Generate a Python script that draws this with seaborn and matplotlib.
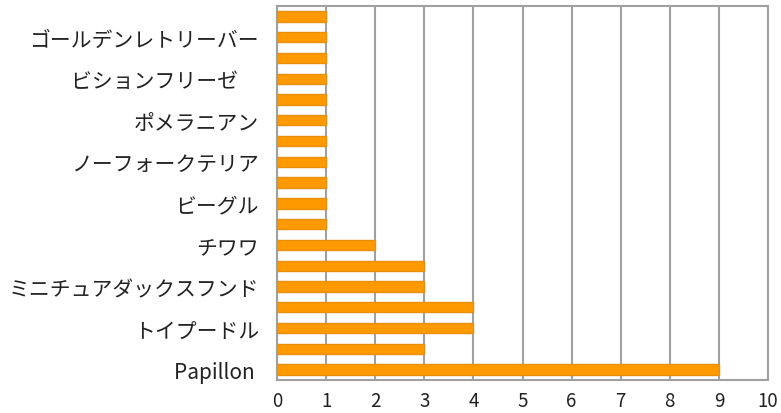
import matplotlib
matplotlib.use("Agg")
import matplotlib.pyplot as plt
import seaborn as sns
import pandas as pd

# Categories top-to-bottom (unlabelled ones are hidden categories in the original)
categories = [f"cat{i:02d}" for i in range(18)]
tick_labels = ["", "ゴールデンレトリーバー", "", "ビションフリーゼ\u3000", "", "ポメラニアン",
               "", "ノーフォークテリア", "", "ビーグル", "", "チワワ",
               "", "ミニチュアダックスフンド", "", "トイプードル", "", "Papillon "]
values = [1, 1, 1, 1, 1, 1, 1, 1, 1, 1, 1, 2, 3, 3, 4, 4, 3, 9]
x_ticks = list(range(0, 11))

sns.set_theme(style="white")
plt.rcParams['font.family'] = ['Noto Sans CJK JP', 'DejaVu Sans']

df = pd.DataFrame({"cat": categories, "val": values})

fig = plt.figure(figsize=(7.81, 4.14), dpi=100)
ax = fig.add_axes([277/781, 1-381/414, (768-277)/781, (381-7)/414])

sns.barplot(data=df, y="cat", x="val", orient="h", order=categories,
            color="#FF9900", edgecolor="#E8900C", linewidth=1.0, width=0.5,
            saturation=1, ax=ax, zorder=3)

ax.set_xlim(0, 10)
ax.set_ylim(len(categories) - 0.5, -0.5)
ax.set_xticks(x_ticks)
ax.set_xticklabels([str(t) for t in x_ticks], fontsize=13.5, color="#222222")
ax.set_yticks(range(len(categories)))
ax.set_yticklabels(tick_labels, fontsize=15, color="#222222")
ax.tick_params(axis="both", length=0)
ax.tick_params(axis="y", pad=13)
ax.tick_params(axis="x", pad=7)
ax.set_xlabel("")
ax.set_ylabel("")

ax.grid(axis="x", color="#A0A0A0", linewidth=1.5, zorder=1)
ax.grid(axis="y", visible=False)
ax.set_axisbelow(True)
for s in ax.spines.values():
    s.set_visible(True)
    s.set_color("#A0A0A0")
    s.set_linewidth(1.5)

fig.savefig("out.png", dpi=100)
